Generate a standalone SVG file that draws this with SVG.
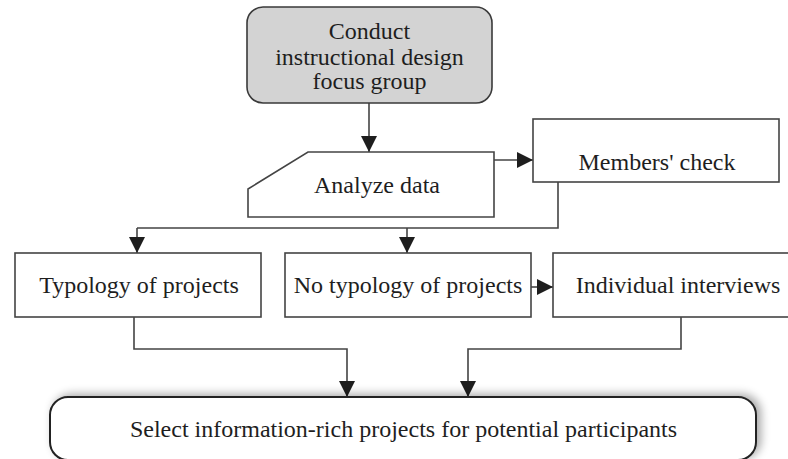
<svg xmlns="http://www.w3.org/2000/svg" width="788" height="459" viewBox="0 0 788 459">
  <style>
    .box { fill: #ffffff; stroke: #444444; stroke-width: 1.6; }
    .start { fill: #d3d3d3; stroke: #3a3a3a; stroke-width: 1.6; }
    .end { fill: #ffffff; stroke: #222222; stroke-width: 2; }
    .lbl { font-family: "Liberation Serif", "Times New Roman", serif; font-size: 24px; fill: #1e1e1e; text-anchor: middle; }
    .wire { fill: none; stroke: #444444; stroke-width: 1.6; marker-end: url(#arrow); }
    .wire-plain { fill: none; stroke: #444444; stroke-width: 1.6; }
  </style>
  <defs>
    <marker id="arrow" viewBox="0 0 16 16" refX="16" refY="8" markerWidth="16" markerHeight="16" markerUnits="userSpaceOnUse" orient="auto">
      <path d="M0,0 L16,8 L0,16 Z" fill="#1e1e1e"/>
    </marker>
    <filter id="soft" x="-10%" y="-40%" width="125%" height="180%">
      <feGaussianBlur in="SourceAlpha" stdDeviation="5"/>
      <feOffset dx="4" dy="-2" result="blur"/>
      <feComponentTransfer><feFuncA type="linear" slope="0.35"/></feComponentTransfer>
      <feMerge><feMergeNode/><feMergeNode in="SourceGraphic"/></feMerge>
    </filter>
  </defs>
  <rect width="788" height="459" fill="#ffffff"/>

  <g id="connectors">
    <path class="wire" d="M369,103 V152"/>
    <path class="wire" d="M494,160 H533"/>
    <path class="wire-plain" d="M558,182 V228 H137"/>
    <path class="wire" d="M137,228 V253"/>
    <path class="wire" d="M407,228 V253"/>
    <path class="wire" d="M531,287 H553"/>
    <path class="wire" d="M134,317 V349 H347 V397"/>
    <path class="wire" d="M681,317 V349 H468 V397"/>
  </g>

  <g id="focus-group">
    <rect class="start" x="247" y="7" width="245" height="96" rx="16"/>
    <text class="lbl" x="369.5" y="39">Conduct</text>
    <text class="lbl" x="369.5" y="65">instructional design</text>
    <text class="lbl" x="369.5" y="89">focus group</text>
  </g>

  <g id="analyze-data">
    <path class="box" d="M308,152 H494 V217 H248 V189 Z"/>
    <text class="lbl" x="377" y="193">Analyze data</text>
  </g>

  <g id="members-check">
    <rect class="box" x="533" y="119" width="246" height="63"/>
    <text class="lbl" x="657" y="170">Members' check</text>
  </g>

  <g id="typology">
    <rect class="box" x="15" y="253" width="246" height="64"/>
    <text class="lbl" x="139" y="293">Typology of projects</text>
  </g>

  <g id="no-typology">
    <rect class="box" x="285" y="253" width="246" height="64"/>
    <text class="lbl" x="408" y="293">No typology of projects</text>
  </g>

  <g id="interviews">
    <rect class="box" x="553" y="253" width="250" height="64"/>
    <text class="lbl" x="678" y="293">Individual interviews</text>
  </g>

  <g id="select-projects">
    <rect class="end" x="50" y="397" width="706" height="63" rx="18" filter="url(#soft)"/>
    <text class="lbl" x="403.5" y="437">Select information-rich projects for potential participants</text>
  </g>
</svg>
